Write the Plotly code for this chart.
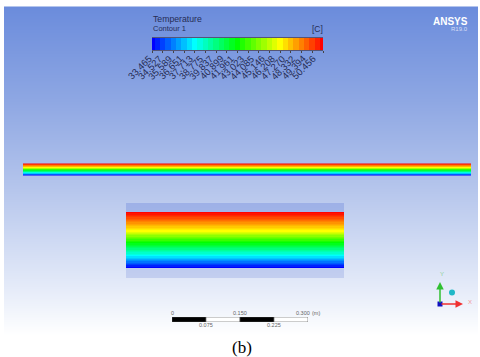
import numpy as np
import plotly.graph_objects as go

W, H = 480, 357
# Contour legend
tick_labels = ["33.465","34.527","35.589","36.651","37.713","38.775","39.837","40.899","41.961",
               "43.023","44.085","45.146","46.208","47.270","48.332","49.394","50.456"]
tick_values = [float(t) for t in tick_labels]
# legend bands: each tick value and the midpoint above it
band_values = sorted(tick_values + [(a + b) / 2 for a, b in zip(tick_values[:-1], tick_values[1:])])

# temperature across the pipe, read top (hot) to bottom (cold)
pipe_profile = [50.4,50.1,49.8,49.5,49.2,48.9,48.6,48.3,48.0,47.7,47.4,47.1,46.8,46.5,46.2,
                45.7,45.3,44.8,44.3,43.8,43.4,42.9,42.4,41.96,
                41.5,41.1,40.7,40.3,39.9,39.4,39.0,38.6,38.2,37.7,
                37.2,36.8,36.3,35.9,35.4,35.0,34.5,34.0,33.465]

rainbow = [[0, "#0000ff"], [.25, "#00ffff"], [.5, "#00ff00"], [.75, "#ffff00"], [1, "#ff0000"]]
tmin, tmax = tick_values[0], tick_values[-1]

# background gradient stops (pixel row, colour)
bg_stops = [(7, "#6b8cdc"), (100, "#8ea7e3"), (190, "#b6c6ec"), (290, "#e6ecf9"), (335, "#ffffff")]
bg_scale = [[(y - 7) / 328, c] for y, c in bg_stops]
bg_rows = list(range(7, 336))

# scale bar
scale_base = [0, 0.075, 0.15, 0.225]
scale_len = [0.075, 0.075, 0.075, 0.075]
scale_col = ["black", "white", "black", "white"]

fig = go.Figure()

fig.add_trace(go.Heatmap(x=[4, 477.5], y=bg_rows, z=[[r] for r in bg_rows], colorscale=bg_scale,
                         zmin=7, zmax=335, showscale=False, hoverinfo="skip"))

def pipe(x0, x1, y0, y1):
    n = len(pipe_profile)
    ys = list(np.linspace(y0, y1, n + 1))
    fig.add_trace(go.Heatmap(x=[x0, x1], y=ys, z=[[t] for t in pipe_profile], colorscale=rainbow,
                             zmin=tmin, zmax=tmax, showscale=False, hoverinfo="skip"))

pipe(23, 471, 163.5, 175.5)
pipe(126, 344, 212, 268)

# legend bar on its own temperature axis
fig.add_trace(go.Heatmap(x=band_values, y=[0, 1], z=[band_values], colorscale=rainbow, zmin=tmin, zmax=tmax,
                         showscale=False, xaxis="x2", yaxis="y2", hoverinfo="skip"))

# scale bar on its own metre axis
fig.add_trace(go.Bar(y=[0] * 4, x=scale_len, base=scale_base, orientation="h", width=1,
                     marker=dict(color=scale_col, line=dict(color="#555555", width=0.6)),
                     xaxis="x3", yaxis="y3", hoverinfo="skip"))

# triad
fig.add_trace(go.Scatter(x=[452], y=[292.5], mode="markers", marker=dict(size=6, color="#1fb8c8"), hoverinfo="skip"))
fig.add_trace(go.Scatter(x=[440], y=[304], mode="markers", marker=dict(size=5, color="#1010c0", symbol="square"), hoverinfo="skip"))

ann = []
def text(x, y, s, size, color, anchor="left", family="Liberation Sans"):
    ann.append(dict(x=x, y=y, text=s, showarrow=False, xanchor=anchor, yanchor="middle",
                    font=dict(size=size, color=color, family=family)))

dark = "#252c55"
text(151, 19, "Temperature", 8.7, dark)
text(151, 28, "Contour 1", 7.5, dark)
text(325, 28.5, "[C]", 8.5, dark, "right")
text(470, 21, "<b>ANSYS</b>", 10, "white", "right")
text(470, 29, "R19.0", 6, "#d6def5", "right")
text(242, 347, "(b)", 17, "black", "center", family="Liberation Serif")
text(442, 274, "Y", 6, "#8fd098", "center")
text(470, 301.5, "X", 6, "#f09898", "center")
gray = "#666666"
for v, lab, yy, dx in [(0, "0", 313, 0), (0.15, "0.150", 313, 0), (0.3, "0.300", 313, -5), (0.075, "0.075", 325, 0), (0.225, "0.225", 325, 0)]:
    ann.append(dict(x=v, y=1 - yy / H, xref="x3", yref="paper", yanchor="middle", xanchor="center", showarrow=False,
                    xshift=dx, text=lab, font=dict(size=5.5, color=gray, family="Liberation Sans")))
text(310, 313, "(m)", 5.5, gray)

# rotated legend labels, hung from the legend ticks
for i, (v, lab) in enumerate(zip(tick_values, tick_labels)):
    ann.append(dict(x=v, y=1 - 51.5 / H, xref="x2", yref="paper", xanchor="right", yanchor="top", showarrow=False,
                    textangle=-45, xshift=3 - 7 * i / 16, text=lab, borderpad=0,
                    font=dict(size=9.5, color=dark, family="Liberation Sans")))

# triad arrows
for x, y, c in [(463, 304, "#f03030"), (440, 282, "#30c030")]:
    ann.append(dict(x=x, y=y, ax=440, ay=304, xref="x", yref="y", axref="x", ayref="y", text="", showarrow=True,
                    arrowhead=2, arrowsize=1, arrowwidth=1.5, arrowcolor=c))

hidden = dict(visible=False, fixedrange=True, automargin=False)
fig.update_layout(
    width=W, height=H, margin=dict(l=0, r=0, t=0, b=0, autoexpand=False), paper_bgcolor="white", plot_bgcolor="rgba(0,0,0,0)",
    showlegend=False, annotations=ann, barmode="overlay",
    xaxis=dict(range=[0, W], domain=[0, 1], **hidden),
    yaxis=dict(range=[H, 0], domain=[0, 1], **hidden),
    xaxis2=dict(domain=[152 / W, 323 / W], range=[tmin, tmax], anchor="y2", tickvals=tick_values, showticklabels=False,
                ticks="outside", ticklen=2, tickwidth=0.7, tickcolor="#444444", automargin=False,
                showline=True, mirror=True, linecolor="#555577", linewidth=1, showgrid=False, zeroline=False, fixedrange=True),
    yaxis2=dict(domain=[1 - 50 / H, 1 - 38 / H], range=[0, 1], anchor="x2", **hidden),
    xaxis3=dict(domain=[172 / W, 308 / W], range=[0, 0.3], anchor="y3", **hidden),
    yaxis3=dict(domain=[1 - 322 / H, 1 - 317 / H], range=[-0.5, 0.5], anchor="x3", **hidden),
    shapes=[dict(type="rect", xref="x", yref="y", x0=126, x1=344, y0=203, y1=212, fillcolor="rgba(90,120,215,0.3)", line_width=0, layer="above"),
            dict(type="rect", xref="x", yref="y", x0=126, x1=344, y0=268, y1=278, fillcolor="rgba(90,120,215,0.22)", line_width=0, layer="above")],
)
fig.write_html("out.html", config=dict(displayModeBar=False),
               post_script="document.body.style.margin='0';document.body.style.overflow='hidden';")
